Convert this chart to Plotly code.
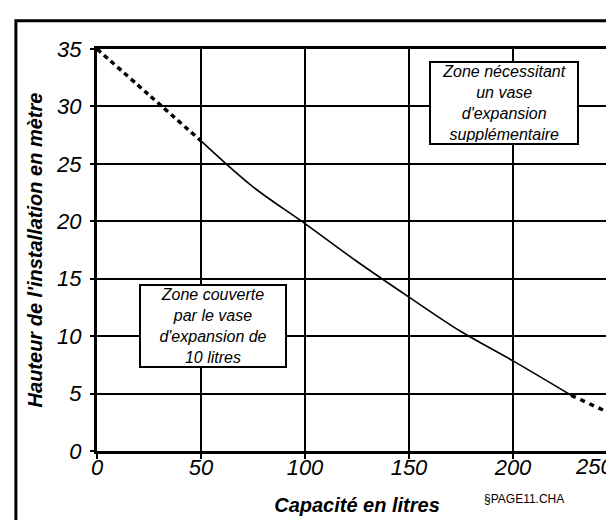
import plotly.graph_objects as go

# Data
capacite = [0, 25, 50, 75, 100, 125, 150, 175, 200, 228, 250]
hauteur = [35.0, 31.0, 27.0, 23.0, 19.8, 16.5, 13.4, 10.4, 7.85, 4.85, 3.0]
x_ticks = [0, 50, 100, 150, 200, 250]
y_ticks = [0, 5, 10, 15, 20, 25, 30, 35]

zone_haut = "Zone nécessitant<br>un vase<br>d'expansion<br>supplémentaire"
zone_bas = "Zone couverte<br>par le vase<br>d'expansion de<br>10 litres"

FONT = "Liberation Sans"

fig = go.Figure()
# dashed start (0..50), solid middle (50..228), dashed end (228..250)
i50 = capacite.index(50)
i228 = capacite.index(228)
fig.add_trace(go.Scatter(x=capacite[:i50 + 1], y=hauteur[:i50 + 1], mode="lines",
                         line=dict(color="black", width=3.5, dash="5px,4px", shape="spline"),
                         cliponaxis=False, showlegend=False, hoverinfo="skip"))
fig.add_trace(go.Scatter(x=capacite[i50:i228 + 1], y=hauteur[i50:i228 + 1], mode="lines",
                         line=dict(color="black", width=1.6, shape="spline"),
                         cliponaxis=False, showlegend=False, hoverinfo="skip"))
fig.add_trace(go.Scatter(x=capacite[i228:], y=hauteur[i228:], mode="lines",
                         line=dict(color="black", width=3.5, dash="5px,5px"),
                         cliponaxis=False, showlegend=False, hoverinfo="skip"))

tick_font = dict(family=FONT, size=22, color="black", style="italic")

# last x tick label sits against the right edge (drawn as an annotation so it stays visible)
x_ticktext = [f"<i>{v}</i>" for v in x_ticks[:-1]] + [""]

fig.update_layout(
    width=614, height=520,
    margin=dict(l=89, r=5, t=41, b=77, autoexpand=False),
    paper_bgcolor="white", plot_bgcolor="white",
    font=dict(family=FONT, color="black"),
    xaxis=dict(range=[0, 250], tickvals=x_ticks, ticktext=x_ticktext,
               showgrid=True, gridcolor="black", gridwidth=2,
               showline=True, linecolor="black", linewidth=3, mirror=True,
               ticks="outside", ticklen=5, tickwidth=2, tickcolor="black",
               tickfont=tick_font, ticklabelstandoff=-10, ticklabeloverflow="allow",
               zeroline=False, fixedrange=True, automargin=False,
               title=dict(text="<b><i>Capacité en litres</i></b>", standoff=19,
                          font=dict(family=FONT, size=20))),
    yaxis=dict(range=[0, 35], tickvals=y_ticks, ticktext=[f"<i>{v}</i>" for v in y_ticks],
               showgrid=True, gridcolor="black", gridwidth=2,
               showline=True, linecolor="black", linewidth=3, mirror=True,
               ticks="outside", ticklen=4, tickwidth=2, tickcolor="black",
               tickfont=tick_font, ticklabelstandoff=4, ticklabeloverflow="allow",
               zeroline=False, fixedrange=True, automargin=False,
               title=dict(text="<b><i>Hauteur de l'installation en mètre</i></b>", standoff=9,
                          font=dict(family=FONT, size=20))),
    shapes=[
        dict(type="rect", xref="paper", yref="paper", x0=-0.156, x1=1.006, y0=-0.3, y1=1.07,
             line=dict(color="black", width=3), fillcolor="rgba(0,0,0,0)", layer="below"),
    ],
    annotations=[
        dict(x=x_ticks[-1], y=(443 - 458) / 402, xref="x", yref="paper",
             text=f"<i>{x_ticks[-1]}</i>", showarrow=False, xanchor="right", yanchor="middle",
             xshift=-3, borderpad=0, font=tick_font),
        dict(x=195.5, y=30.3, xref="x", yref="y", text=f"<i>{zone_haut}</i>", showarrow=False,
             font=dict(family=FONT, size=16), bgcolor="white", bordercolor="black",
             borderwidth=2, borderpad=1, width=144, height=78),
        dict(x=56, y=10.9, xref="x", yref="y", text=f"<i>{zone_bas}</i>", showarrow=False,
             font=dict(family=FONT, size=16), bgcolor="white", bordercolor="black",
             borderwidth=2, borderpad=1, width=142, height=78),
        dict(x=(558 - 89) / 520, y=(443 - 500) / 402, xref="paper", yref="paper",
             text="§PAGE11.CHA", showarrow=False, font=dict(family=FONT, size=12)),
    ],
)

fig.write_html("out.html")
